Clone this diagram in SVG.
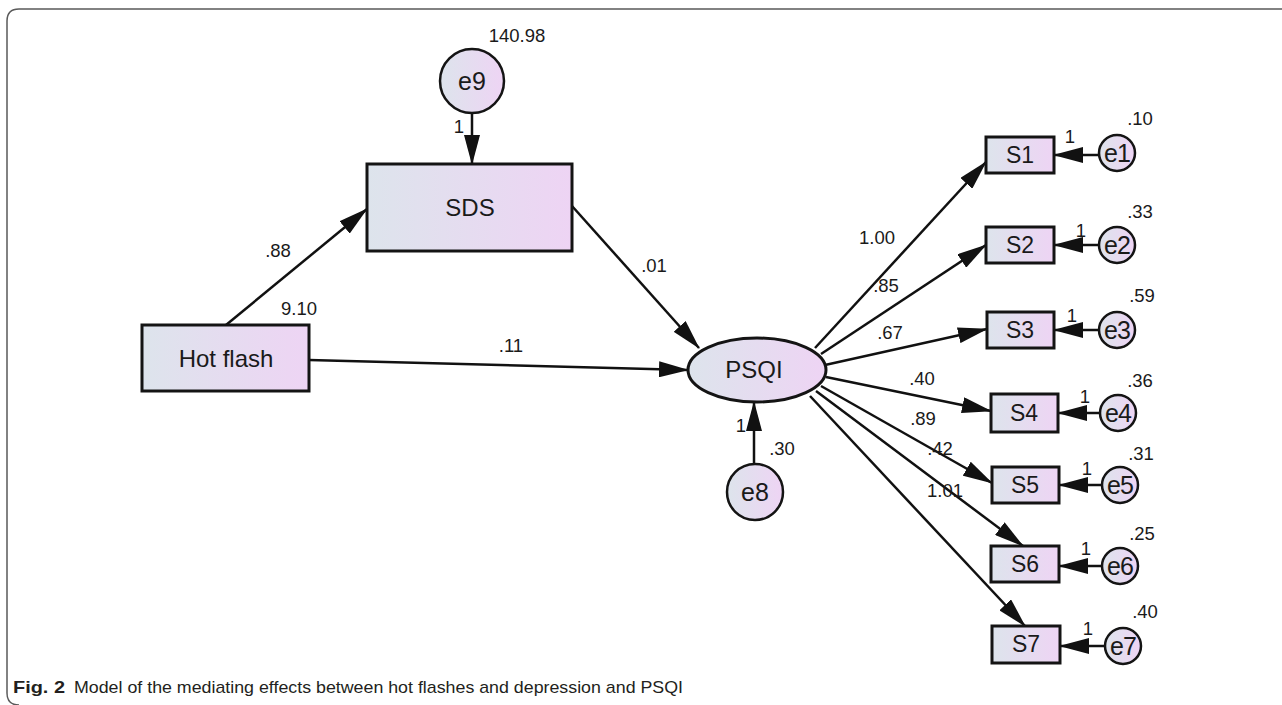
<svg xmlns="http://www.w3.org/2000/svg" width="1282" height="705" viewBox="0 0 1282 705">
<defs>
<linearGradient id="fill" x1="0" y1="0" x2="1" y2="0">
<stop offset="0" stop-color="#dde4ec"/>
<stop offset="1" stop-color="#eed4f4"/>
</linearGradient>
<marker id="ah" markerUnits="userSpaceOnUse" markerWidth="30" markerHeight="16" refX="29" refY="8" orient="auto" viewBox="0 0 30 16">
<path d="M0,0 L30,8 L0,16 Z" fill="#111"/>
</marker>
<style>
.node{fill:url(#fill);stroke:#141414;stroke-width:3}
.err{fill:url(#fill);stroke:#141414;stroke-width:2.5}
.lbl{font-family:"Liberation Sans",Arial,sans-serif;font-size:24px;fill:#1a1a1a;text-anchor:middle}
.elbl{font-family:"Liberation Sans",Arial,sans-serif;font-size:25px;fill:#1a1a1a;text-anchor:middle}
.slbl{font-family:"Liberation Sans",Arial,sans-serif;font-size:23px;fill:#1a1a1a;text-anchor:middle}
.sel{font-family:"Liberation Sans",Arial,sans-serif;font-size:25px;fill:#1a1a1a;text-anchor:middle;letter-spacing:-1px}
.num{font-family:"Liberation Sans",Arial,sans-serif;font-size:18.5px;fill:#1a1a1a;text-anchor:middle}
.con line{stroke:#111;stroke-width:2.5;marker-end:url(#ah)}
.cap{font-family:"Liberation Sans Narrow","Liberation Sans",Arial,sans-serif;font-size:17px;fill:#231f20}
</style>
</defs>
<rect width="1282" height="705" fill="#fff"/>
<path d="M1282,9 L19,9 Q7,9 7,21 L7,693 Q7,705 19,705" fill="none" stroke="#5a5a5a" stroke-width="1.5"/>

<g id="connectors" class="con">
<line x1="472" y1="113" x2="472" y2="164"/>
<line x1="226" y1="325" x2="367" y2="209"/>
<line x1="572" y1="206" x2="699" y2="348"/>
<line x1="309" y1="360" x2="688" y2="370"/>
<line x1="754" y1="464" x2="754" y2="402"/>
<line x1="815" y1="348" x2="986" y2="162"/>
<line x1="821" y1="354" x2="986" y2="245"/>
<line x1="825" y1="365" x2="987" y2="329"/>
<line x1="826" y1="377" x2="991" y2="411"/>
<line x1="821" y1="386" x2="992" y2="483"/>
<line x1="816" y1="391" x2="1023" y2="546"/>
<line x1="810" y1="396" x2="1025" y2="626"/>
<line x1="1099" y1="155" x2="1054" y2="155"/>
<line x1="1099" y1="245" x2="1054" y2="245"/>
<line x1="1099" y1="330" x2="1054" y2="330"/>
<line x1="1100" y1="413" x2="1058" y2="413"/>
<line x1="1102" y1="485" x2="1059" y2="485"/>
<line x1="1102" y1="566" x2="1059" y2="566"/>
<line x1="1104" y1="646" x2="1060" y2="646"/>
</g>

<g id="e9"><circle class="err" cx="472" cy="81" r="32"/><text class="elbl" x="472" y="90">e9</text></g>
<g id="SDS"><rect class="node" x="367" y="164" width="205" height="87"/><text class="lbl" x="470" y="216">SDS</text></g>
<g id="hotflash"><rect class="node" x="142" y="325" width="167" height="66"/><text class="lbl" x="226" y="367">Hot flash</text></g>
<g id="PSQI"><ellipse class="node" cx="757" cy="370" rx="69" ry="32"/><text class="lbl" x="754" y="378">PSQI</text></g>
<g id="e8"><circle class="err" cx="755" cy="492" r="28"/><text class="elbl" x="755" y="501">e8</text></g>

<g id="S1"><rect class="node" x="986" y="137" width="68" height="36"/><text class="slbl" x="1020" y="163">S1</text></g>
<g id="S2"><rect class="node" x="986" y="227" width="68" height="36"/><text class="slbl" x="1020" y="253">S2</text></g>
<g id="S3"><rect class="node" x="987" y="312" width="67" height="36"/><text class="slbl" x="1020" y="338">S3</text></g>
<g id="S4"><rect class="node" x="991" y="394" width="67" height="38"/><text class="slbl" x="1024" y="421">S4</text></g>
<g id="S5"><rect class="node" x="992" y="467" width="67" height="36"/><text class="slbl" x="1025" y="493">S5</text></g>
<g id="S6"><rect class="node" x="991" y="546" width="68" height="36"/><text class="slbl" x="1025" y="572">S6</text></g>
<g id="S7"><rect class="node" x="992" y="626" width="68" height="37"/><text class="slbl" x="1026" y="652">S7</text></g>

<g id="e1"><circle class="err" cx="1117" cy="153" r="18"/><text class="sel" x="1117" y="162">e1</text></g>
<g id="e2"><circle class="err" cx="1117" cy="245" r="18"/><text class="sel" x="1117" y="254">e2</text></g>
<g id="e3"><circle class="err" cx="1117" cy="330" r="18"/><text class="sel" x="1117" y="339">e3</text></g>
<g id="e4"><circle class="err" cx="1118" cy="413" r="18"/><text class="sel" x="1118" y="422">e4</text></g>
<g id="e5"><circle class="err" cx="1120" cy="485" r="18"/><text class="sel" x="1120" y="494">e5</text></g>
<g id="e6"><circle class="err" cx="1120" cy="566" r="18"/><text class="sel" x="1120" y="575">e6</text></g>
<g id="e7"><circle class="err" cx="1123" cy="646" r="18"/><text class="sel" x="1123" y="655">e7</text></g>

<g id="labels">
<text class="num" x="517" y="42">140.98</text>
<text class="num" x="459" y="133">1</text>
<text class="num" x="278" y="257">.88</text>
<text class="num" x="299" y="315">9.10</text>
<text class="num" x="654" y="272">.01</text>
<text class="num" x="511" y="352">.11</text>
<text class="num" x="741" y="432">1</text>
<text class="num" x="782" y="455">.30</text>
<text class="num" x="877" y="244">1.00</text>
<text class="num" x="886" y="292">.85</text>
<text class="num" x="890" y="339">.67</text>
<text class="num" x="922" y="385">.40</text>
<text class="num" x="923" y="425">.89</text>
<text class="num" x="940" y="455">.42</text>
<text class="num" x="945" y="497">1.01</text>
<text class="num" x="1070" y="143">1</text>
<text class="num" x="1081" y="237">1</text>
<text class="num" x="1072" y="322">1</text>
<text class="num" x="1085" y="403">1</text>
<text class="num" x="1087" y="475">1</text>
<text class="num" x="1086" y="555">1</text>
<text class="num" x="1088" y="635">1</text>
<text class="num" x="1140" y="125">.10</text>
<text class="num" x="1140" y="218">.33</text>
<text class="num" x="1142" y="302">.59</text>
<text class="num" x="1140" y="387">.36</text>
<text class="num" x="1141" y="460">.31</text>
<text class="num" x="1142" y="540">.25</text>
<text class="num" x="1145" y="618">.40</text>
</g>

<g id="caption">
<text class="cap" x="13" y="693" font-weight="bold" fill="#000" textLength="52" lengthAdjust="spacingAndGlyphs">Fig. 2</text>
<text class="cap" x="74" y="693" textLength="609" lengthAdjust="spacingAndGlyphs">Model of the mediating effects between hot flashes and depression and PSQI</text>
</g>
</svg>
